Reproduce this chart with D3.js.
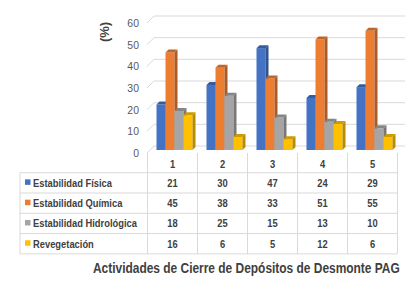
<!DOCTYPE html>
<html>
<head>
<meta charset="utf-8">
<script src="https://cdn.jsdelivr.net/npm/d3@7/dist/d3.min.js"></script>
<style>
  html, body { margin: 0; padding: 0; background: #fff; }
  svg { display: block; font-family: "Liberation Sans", Arial, sans-serif; }
</style>
</head>
<body>
<svg id="chart" width="412" height="282"></svg>
<script>
const categories = ['1', '2', '3', '4', '5'];
const seriesNames = ['Estabilidad Física', 'Estabilidad Química', 'Estabilidad Hidrológica', 'Revegetación'];
const fisica = [21, 30, 47, 24, 29];
const quimica = [45, 38, 33, 51, 55];
const hidrologica = [18, 25, 15, 13, 10];
const revegetacion = [16, 6, 5, 12, 6];
const yTicks = [0, 10, 20, 30, 40, 50, 60];
const yLabel = '(%)';
const title = 'Actividades de Cierre de Depósitos de Desmonte PAG';

const seriesValues = [fisica, quimica, hidrologica, revegetacion];
const colors = ['#4472C4', '#ED7D31', '#A5A5A5', '#FFC000'];

const svg = d3.select('#chart');
const textColor = '#404040';
const gridColor = '#D9D9D9';

// 3d offsets
const depthX = 3, depthY = 3;
const gridBackX = 7, gridFront = 3, gridBack = -4;

const x0 = d3.scaleBand().domain(categories).range([147.5, 397.5]).paddingInner(0);
const x1 = d3.scaleBand().domain(d3.range(seriesNames.length)).range([9, 45]).padding(0);
const y = d3.scaleLinear().domain([0, 60]).range([150, 20]);

// squeeze text horizontally, the source font is narrow
function squeeze(sel, k) {
  sel.each(function () {
    const w = this.getComputedTextLength();
    d3.select(this).attr('textLength', w * k).attr('lengthAdjust', 'spacingAndGlyphs');
  });
}

// gridlines with the little diagonal on the left wall
const grid = svg.append('g').attr('class', 'grid');
yTicks.forEach(v => {
  grid.append('path')
    .attr('d', `M147,${y(v) + gridFront} L${147 + gridBackX},${y(v) + gridBack} L405,${y(v) + gridBack}`)
    .attr('fill', 'none')
    .attr('stroke', gridColor)
    .attr('stroke-width', 1);
});

// y axis labels
const yAxis = d3.axisLeft(y).tickValues(yTicks).tickSize(0).tickPadding(0);
const yg = svg.append('g')
  .attr('transform', `translate(139, ${gridFront})`)
  .call(yAxis);
yg.select('.domain').remove();
yg.selectAll('text')
  .attr('fill', '#595959')
  .attr('font-size', '11px')
  .attr('font-family', '"Liberation Sans", Arial, sans-serif')
  .call(squeeze, 0.95);

svg.append('text')
  .attr('transform', 'translate(109, 32) rotate(-90)')
  .attr('text-anchor', 'middle')
  .attr('font-size', '13px')
  .attr('font-weight', 'bold')
  .attr('fill', textColor)
  .text(yLabel);

// bars
const bars = svg.append('g').attr('class', 'bars');
categories.forEach((c, ci) => {
  seriesValues.forEach((vals, si) => {
    const bx = x0(c) + x1(si);
    const bw = x1.bandwidth();
    const top = y(vals[ci]);
    const bottom = y(0);
    const col = d3.color(colors[si]);
    bars.append('rect')
      .attr('x', bx).attr('y', top)
      .attr('width', bw).attr('height', bottom - top)
      .attr('fill', colors[si]);
    bars.append('path')
      .attr('d', `M${bx + bw},${top} L${bx + bw + depthX},${top - depthY} L${bx + bw + depthX},${bottom - depthY} L${bx + bw},${bottom} Z`)
      .attr('fill', col.darker(0.9));
    bars.append('path')
      .attr('d', `M${bx},${top} L${bx + depthX},${top - depthY} L${bx + bw + depthX},${top - depthY} L${bx + bw},${top} Z`)
      .attr('fill', col.darker(0.6));
  });
});

// data table
const table = svg.append('g').attr('class', 'table');
const rowTop = 172.7, rowH = 20.3, tableLeft = 20, headTop = 153;
const rowY = i => rowTop + i * rowH;
const tableBottom = rowY(seriesNames.length);

const lineStyle = s => s.attr('stroke', gridColor).attr('stroke-width', 1).attr('fill', 'none');

// horizontal lines
d3.range(seriesNames.length + 1).forEach(i => {
  table.append('line')
    .attr('x1', tableLeft).attr('x2', x0.range()[1])
    .attr('y1', rowY(i)).attr('y2', rowY(i))
    .call(lineStyle);
});
// vertical lines
table.append('line')
  .attr('x1', tableLeft).attr('x2', tableLeft)
  .attr('y1', rowTop).attr('y2', tableBottom)
  .call(lineStyle);
categories.concat(['end']).forEach((c, i) => {
  const xx = i < categories.length ? x0(c) : x0.range()[1];
  table.append('line')
    .attr('x1', xx).attr('x2', xx)
    .attr('y1', headTop).attr('y2', tableBottom)
    .call(lineStyle);
});

// header numbers
table.selectAll('.head')
  .data(categories)
  .join('text')
  .attr('class', 'head')
  .attr('x', d => x0(d) + x0.bandwidth() / 2)
  .attr('y', (headTop + rowTop) / 2 + 1)
  .attr('dy', '0.35em')
  .attr('text-anchor', 'middle')
  .attr('font-size', '11px')
  .attr('font-weight', 'bold')
  .attr('fill', textColor)
  .text(d => d)
  .call(squeeze, 0.85);

// rows
seriesNames.forEach((name, si) => {
  const cy = rowY(si) + rowH / 2;
  table.append('rect')
    .attr('x', 25).attr('y', cy - 3.5)
    .attr('width', 5.5).attr('height', 5.5)
    .attr('fill', colors[si]);
  table.append('text')
    .attr('x', 33).attr('y', cy)
    .attr('dy', '0.35em')
    .attr('font-size', '11px')
    .attr('font-weight', 'bold')
    .attr('fill', textColor)
    .text(name)
    .call(squeeze, 0.85);
  seriesValues[si].forEach((v, ci) => {
    table.append('text')
      .attr('x', x0(categories[ci]) + x0.bandwidth() / 2)
      .attr('y', cy)
      .attr('dy', '0.35em')
      .attr('text-anchor', 'middle')
      .attr('font-size', '11px')
      .attr('font-weight', 'bold')
      .attr('fill', textColor)
      .text(v)
      .call(squeeze, 0.85);
  });
});

// title, scaled down horizontally to fit its width in the picture
const titleG = svg.append('g');
const titleText = titleG.append('text')
  .attr('x', 0).attr('y', 0)
  .attr('dy', '0.35em')
  .attr('font-size', '14px')
  .attr('font-weight', 'bold')
  .attr('fill', textColor)
  .text(title);
const titleW = titleText.node().getComputedTextLength();
titleG.attr('transform', `translate(93, 268) scale(${307 / titleW}, 1)`);
</script>
</body>
</html>
